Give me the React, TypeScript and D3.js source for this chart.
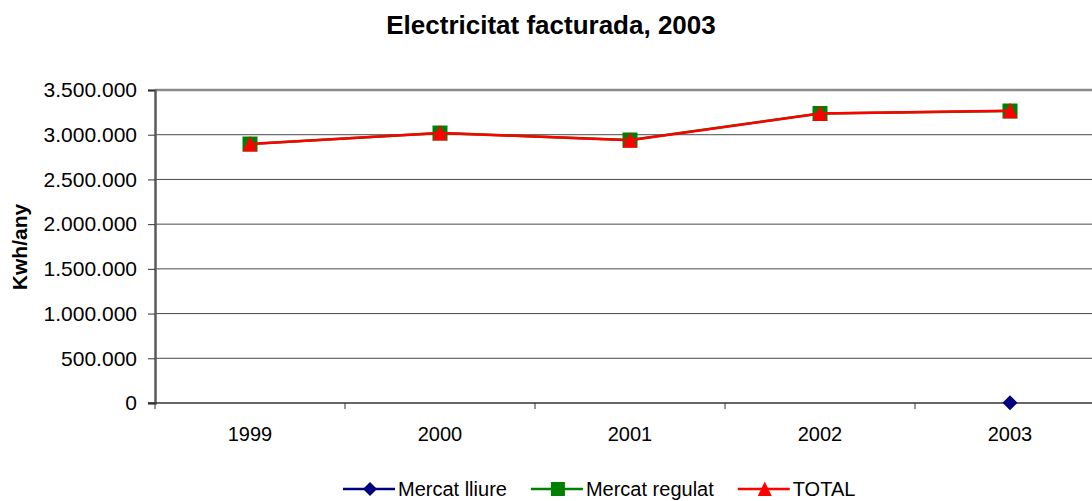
import React, { useEffect, useRef } from 'react';
import * as d3 from 'd3';

const years = ['1999', '2000', '2001', '2002', '2003'];
const mercatLliure = [null, null, null, null, 4000];
const mercatRegulat = [2896000, 3019000, 2941000, 3237000, 3265000];
const total = [2896000, 3019000, 2938000, 3237000, 3269000];
const yTicks = [0, 500000, 1000000, 1500000, 2000000, 2500000, 3000000, 3500000];

// marker shapes, centred on 0,0
const diamond = (r) => `M0,${-r}L${r},0L0,${r}L${-r},0Z`;
const square = (r) => `M${-r},${-r}H${r}V${r}H${-r}Z`;
const triangle = (r) => `M0,${-r - 0.5}L${r},${r}L${-r},${r}Z`;

const App = () => {
  const svgRef = useRef(null);

  useEffect(() => {
    const width = 1092;
    const left = 155;
    const top = 90;
    const bottom = 403;
    const band = 190;

    const svg = d3.select(svgRef.current);
    svg.selectAll('*').remove();

    const x = d3.scaleBand().domain(years).range([left, left + band * years.length]).padding(0);
    const y = d3.scaleLinear().domain([0, 3500000]).range([bottom, top]);
    const fmt = (v) => d3.format(',')(v).replace(/,/g, '.');
    const font = 'Arial, "Liberation Sans", sans-serif';

    // title
    svg.append('text')
      .attr('x', 551).attr('y', 34)
      .attr('text-anchor', 'middle')
      .style('font', `bold 26px ${font}`)
      .text('Electricitat facturada, 2003');

    // gridlines
    svg.append('g').selectAll('line')
      .data(yTicks.filter(d => d > 0))
      .enter().append('line')
      .attr('x1', left).attr('x2', width)
      .attr('y1', d => y(d)).attr('y2', d => y(d))
      .attr('stroke', d => (d === 3500000 ? '#8c8c8c' : '#4a4a4a'))
      .attr('stroke-width', d => (d === 3500000 ? 2.5 : 1));

    // y axis
    const yAxis = svg.append('g')
      .attr('transform', `translate(${left},0)`)
      .call(d3.axisLeft(y).tickValues(yTicks).tickFormat(fmt).tickSize(7).tickPadding(11));
    yAxis.select('.domain').attr('stroke', '#5a5a5a').attr('stroke-width', 2.5);
    yAxis.selectAll('.tick line').attr('stroke', '#333');
    yAxis.selectAll('text').style('font', `21px ${font}`).attr('fill', '#000');

    // x axis
    const xAxis = svg.append('g')
      .attr('transform', `translate(0,${bottom})`)
      .call(d3.axisBottom(x).tickSize(0).tickPadding(24));
    xAxis.select('.domain').remove();
    xAxis.selectAll('text').style('font', `20px ${font}`).attr('fill', '#000');
    svg.append('line')
      .attr('x1', left - 7).attr('x2', width)
      .attr('y1', bottom).attr('y2', bottom)
      .attr('stroke', '#333').attr('stroke-width', 1.5);
    svg.append('g').selectAll('line')
      .data(d3.range(years.length + 1))
      .enter().append('line')
      .attr('x1', i => left + i * band).attr('x2', i => left + i * band)
      .attr('y1', bottom).attr('y2', bottom + 6)
      .attr('stroke', '#333');

    // y axis label
    svg.append('text')
      .attr('transform', 'rotate(-90)')
      .attr('x', -247).attr('y', 27)
      .attr('text-anchor', 'middle')
      .style('font', `bold 21px ${font}`)
      .text('Kwh/any');

    const cx = (i) => x(years[i]) + x.bandwidth() / 2;
    const line = d3.line()
      .defined(d => d != null)
      .x((d, i) => cx(i))
      .y(d => y(d));

    const series = [
      { name: 'Mercat lliure', values: mercatLliure, color: '#000080', shape: diamond, r: 7.5 },
      { name: 'Mercat regulat', values: mercatRegulat, color: '#008000', shape: square, r: 7.5 },
      { name: 'TOTAL', values: total, color: '#ff0000', shape: triangle, r: 7.5 },
    ];

    series.forEach(s => {
      svg.append('path')
        .datum(s.values)
        .attr('d', line)
        .attr('fill', 'none')
        .attr('stroke', s.color)
        .attr('stroke-width', 2.5);
      svg.append('g').selectAll('path')
        .data(s.values.map((v, i) => ({ v, i })).filter(d => d.v != null))
        .enter().append('path')
        .attr('d', s.shape(s.r))
        .attr('transform', d => `translate(${cx(d.i)},${y(d.v)})`)
        .attr('fill', s.color);
    });

    // legend, laid out left to right from text widths
    let lx = 343;
    series.forEach(s => {
      const g = svg.append('g').attr('transform', `translate(${lx},489)`);
      g.append('line').attr('x1', 0).attr('x2', 52).attr('y1', 0).attr('y2', 0)
        .attr('stroke', s.color).attr('stroke-width', 2.5);
      g.append('path')
        .attr('d', s.shape(s.r - 0.5))
        .attr('transform', 'translate(27,0)')
        .attr('fill', s.color);
      const t = g.append('text')
        .attr('x', 55).attr('y', 7)
        .style('font', `20px ${font}`)
        .text(s.name);
      lx += 55 + t.node().getComputedTextLength() + 24;
    });
  }, []);

  return (
    <svg ref={svgRef} width={1092} height={501}
      style={{ position: 'absolute', left: 0, top: 0, background: '#fff' }} />
  );
};

export default App;
